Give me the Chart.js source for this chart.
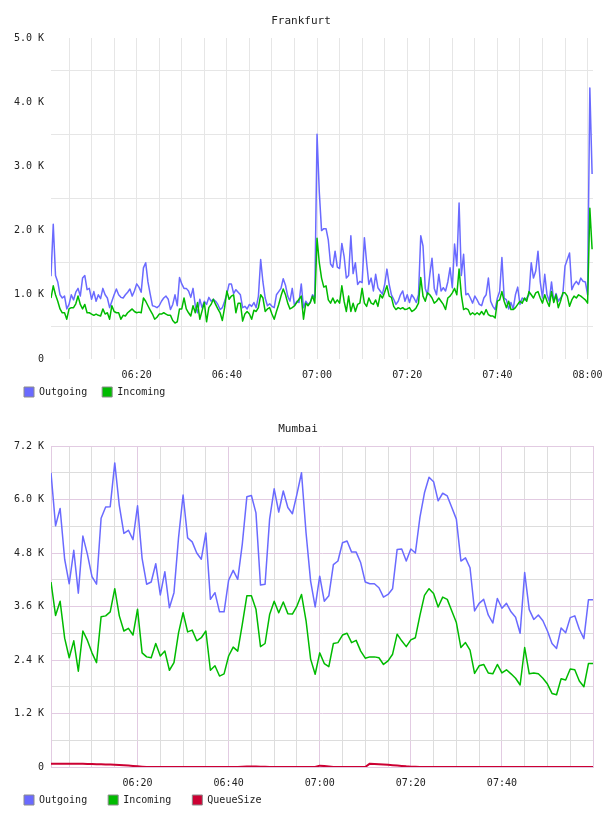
<!DOCTYPE html>
<html>
<head>
<meta charset="utf-8">
<script src="https://cdn.jsdelivr.net/npm/chart.js@4.4.1/dist/chart.umd.min.js"></script>
<style>
  html, body { margin: 0; padding: 0; background: #fff; }
  .box { width: 608px; height: 408px; }
  canvas { display: block; }
</style>
</head>
<body>
<div class="box"><canvas id="frankfurt" width="608" height="408"></canvas></div>
<div class="box"><canvas id="mumbai" width="608" height="408"></canvas></div>
<script>
// Frankfurt: one sample every 30 s from 06:01, values in K
const frankfurtStart = 361;   // minutes since midnight
const frankfurtStep = 0.5;
const frankfurtOutgoing = [
  1.29, 2.1, 1.3, 1.2, 1.0, 0.95, 0.98, 0.78, 0.85, 1.0,
  0.92, 1.04, 1.1, 0.98, 1.26, 1.3, 1.08, 1.1, 0.93, 1.05,
  0.9, 1.0, 0.94, 1.1, 1.0, 0.95, 0.8, 0.9, 1.0, 1.09,
  1.0, 0.96, 0.95, 1.0, 1.04, 1.09, 0.98, 1.06, 1.17, 1.12,
  1.04, 1.42, 1.5, 1.2, 1.01, 0.83, 0.82, 0.8, 0.83, 0.9,
  0.95, 0.98, 0.93, 0.77, 0.85, 1.0, 0.83, 1.27, 1.17, 1.1,
  1.1, 1.06, 0.96, 1.1, 0.83, 0.72, 0.93, 0.8, 0.9, 0.85,
  0.96, 0.9, 0.93, 0.9, 0.85, 0.77, 0.8, 0.9, 1.01, 1.17,
  1.17, 1.02, 1.08, 1.04, 1.0, 0.8, 0.82, 0.78, 0.85, 0.82,
  0.88, 0.8, 0.98, 1.55, 1.2, 0.95, 0.83, 0.86, 0.82, 0.8,
  1.0, 1.05, 1.1, 1.25, 1.15, 0.98, 0.9, 1.1, 0.83, 0.9,
  0.88, 1.17, 0.8, 0.9, 0.85, 0.88, 1.0, 0.95, 3.5, 2.6,
  2.0, 2.03, 2.03, 1.85, 1.48, 1.43, 1.68, 1.43, 1.41, 1.8,
  1.6, 1.26, 1.3, 1.92, 1.33, 1.5, 1.16, 1.21, 1.19, 1.89,
  1.5, 1.16, 1.26, 1.06, 1.32, 1.11, 1.06, 1.01, 1.16, 1.4,
  1.16, 1.0, 0.93, 0.85, 0.9, 1.0, 1.06, 0.9, 1.0, 0.88,
  1.0, 0.95, 0.88, 1.0, 1.92, 1.76, 1.1, 1.0, 1.31, 1.57,
  1.1, 1.0, 1.32, 1.06, 1.11, 1.06, 1.2, 1.42, 1.11, 1.79,
  1.45, 2.43, 1.3, 1.63, 1.0, 1.02, 0.95, 0.87, 0.98, 0.92,
  0.85, 0.83, 0.95, 1.0, 1.26, 0.9, 0.82, 0.77, 0.95, 1.05,
  1.58, 0.95, 0.92, 0.78, 0.88, 0.78, 1.0, 1.12, 0.85, 0.95,
  0.92, 0.95, 1.0, 1.5, 1.26, 1.37, 1.68, 1.2, 0.95, 1.32,
  1.0, 0.9, 1.2, 0.9, 1.02, 0.9, 0.95, 1.0, 1.45, 1.55,
  1.65, 1.08, 1.16, 1.21, 1.16, 1.26, 1.21, 1.2, 1.0, 4.22, 2.88
];
const frankfurtIncoming = [
  0.95, 1.14, 1.0, 0.9, 0.78, 0.72, 0.72, 0.62, 0.78, 0.8,
  0.8, 0.86, 0.98, 0.85, 0.78, 0.85, 0.72, 0.72, 0.7, 0.68,
  0.7, 0.68, 0.67, 0.78, 0.7, 0.72, 0.62, 0.83, 0.74, 0.72,
  0.72, 0.62, 0.68, 0.67, 0.72, 0.75, 0.78, 0.74, 0.72, 0.73,
  0.72, 0.95, 0.9, 0.83, 0.76, 0.7, 0.62, 0.65, 0.7, 0.7,
  0.72, 0.7, 0.68, 0.68, 0.6, 0.56, 0.58, 0.78, 0.78, 0.95,
  0.78, 0.72, 0.67, 0.83, 0.72, 0.88, 0.62, 0.75, 0.88, 0.58,
  0.8, 0.85, 0.93, 0.85, 0.78, 0.72, 0.6, 0.8, 1.06, 0.93,
  0.98, 1.0, 0.72, 0.87, 0.87, 0.59, 0.7, 0.74, 0.7, 0.62,
  0.76, 0.74, 0.8, 1.0, 0.95, 0.74, 0.78, 0.8, 0.7, 0.62,
  0.74, 0.85, 0.98, 1.09, 1.0, 0.87, 0.78, 0.8, 0.83, 0.88,
  0.93, 0.98, 0.62, 0.87, 0.83, 0.88, 0.98, 0.87, 1.88, 1.5,
  1.26, 1.12, 1.14, 0.92, 0.87, 0.95, 0.87, 0.92, 0.87, 1.14,
  0.9, 0.74, 0.98, 0.74, 0.87, 0.74, 0.85, 0.87, 1.1, 0.87,
  0.82, 0.95, 0.87, 0.85, 0.92, 0.82, 1.0, 0.95, 1.04, 1.14,
  0.98, 0.96, 0.82, 0.77, 0.8, 0.78, 0.8, 0.77, 0.78, 0.8,
  0.74, 0.76, 0.8, 0.87, 1.27, 0.98, 0.9, 1.03, 1.0, 0.95,
  0.87, 0.9, 0.95, 0.9, 0.85, 0.77, 0.95, 0.98, 1.03, 1.1,
  1.0, 1.4, 1.0, 0.77, 0.79, 0.77, 0.69, 0.72, 0.69, 0.72,
  0.69, 0.74, 0.69, 0.77, 0.69, 0.67, 0.67, 0.64, 0.9, 0.92,
  1.05, 0.9, 0.8, 0.9, 0.77, 0.77, 0.8, 0.85, 0.9, 0.87,
  0.95, 0.9, 1.05, 1.0, 0.95, 1.03, 1.05, 0.95, 0.87, 1.0,
  0.9, 0.82, 1.05, 0.88, 1.0, 0.8, 0.9, 1.03, 1.03, 0.98,
  0.82, 0.92, 0.98, 0.95, 1.0, 0.98, 0.95, 0.92, 0.87, 2.35, 1.71
];
const frankfurtTicks = { max: 5, step: 0.5, labelEvery: 1 };

// Mumbai: one sample per minute from 06:01, values in K
const mumbaiStart = 361;
const mumbaiStep = 1;
const mumbaiOutgoing = [
  6.6, 5.41, 5.8, 4.66, 4.11, 4.86, 3.9, 5.18, 4.77, 4.27,
  4.1, 5.58, 5.83, 5.84, 6.82, 5.86, 5.24, 5.31, 5.1, 5.86,
  4.68, 4.1, 4.15, 4.56, 3.86, 4.38, 3.57, 3.91, 5.14, 6.1,
  5.14, 5.05, 4.8, 4.66, 5.25, 3.76, 3.91, 3.48, 3.48, 4.19,
  4.41, 4.21, 5.0, 6.06, 6.09, 5.7, 4.08, 4.1, 5.56, 6.24,
  5.72, 6.19, 5.82, 5.68, 6.12, 6.6, 5.25, 4.17, 3.59, 4.28,
  3.72, 3.84, 4.54, 4.62, 5.03, 5.07, 4.82, 4.82, 4.58, 4.15,
  4.11, 4.11, 4.02, 3.81, 3.87, 4.0, 4.88, 4.89, 4.62, 4.89,
  4.8, 5.6, 6.15, 6.5, 6.4, 5.97, 6.14, 6.08, 5.82, 5.56,
  4.62, 4.69, 4.47, 3.5, 3.67, 3.76, 3.41, 3.23, 3.78, 3.56,
  3.67, 3.48, 3.36, 3.0, 4.36, 3.53, 3.31, 3.41, 3.28, 3.05,
  2.77, 2.66, 3.12, 3.01, 3.35, 3.39, 3.09, 2.88, 3.75, 3.75
];
const mumbaiIncoming = [
  4.15, 3.4, 3.72, 2.89, 2.45, 2.83, 2.15, 3.05, 2.84, 2.56,
  2.34, 3.37, 3.39, 3.48, 4.0, 3.39, 3.05, 3.11, 2.96, 3.54,
  2.56, 2.47, 2.45, 2.77, 2.49, 2.6, 2.17, 2.34, 3.01, 3.46,
  3.03, 3.07, 2.83, 2.9, 3.05, 2.17, 2.27, 2.04, 2.09, 2.49,
  2.69, 2.6, 3.2, 3.84, 3.84, 3.54, 2.7, 2.77, 3.42, 3.72,
  3.46, 3.7, 3.44, 3.43, 3.61, 3.87, 3.28, 2.42, 2.08, 2.56,
  2.32, 2.25, 2.77, 2.79, 2.96, 3.0, 2.79, 2.84, 2.6, 2.44,
  2.47, 2.47, 2.45, 2.3, 2.38, 2.53, 2.98, 2.83, 2.7, 2.85,
  2.9, 3.4, 3.85, 4.0, 3.89, 3.59, 3.81, 3.76, 3.5, 3.24,
  2.68, 2.79, 2.62, 2.1, 2.27, 2.3, 2.11, 2.09, 2.3, 2.11,
  2.18, 2.09, 1.99, 1.84, 2.68, 2.09, 2.11, 2.09, 1.99, 1.86,
  1.65, 1.62, 1.98, 1.95, 2.2, 2.18, 1.93, 1.8, 2.32, 2.32
];
const mumbaiQueueSize = [
  0.074, 0.074, 0.074, 0.074, 0.074, 0.074, 0.074, 0.072, 0.07, 0.066,
  0.063, 0.06, 0.058, 0.055, 0.05, 0.046, 0.038, 0.032, 0.024, 0.015,
  0.008, 0.002, 0, 0, 0, 0, 0, 0, 0, 0,
  0, 0, 0, 0, 0, 0, 0, 0, 0, 0,
  0, 0, 0.005, 0.01, 0.01, 0.01, 0.008, 0.005, 0, 0,
  0, 0, 0, 0, 0, 0, 0, 0, 0, 0.03,
  0.02, 0.01, 0, 0, 0, 0, 0, 0, 0, 0,
  0.075, 0.07, 0.062, 0.055, 0.048, 0.04, 0.032, 0.025, 0.015, 0.008,
  0.003, 0, 0, 0, 0, 0, 0, 0, 0, 0,
  0, 0, 0, 0, 0, 0, 0, 0, 0, 0,
  0, 0, 0, 0, 0, 0, 0, 0, 0, 0,
  0, 0, 0, 0, 0, 0, 0, 0, 0, 0
];
const mumbaiTicks = { max: 7.2, step: 0.6, labelEvery: 1.2 };

const COLORS = { outgoing: '#6a6aff', incoming: '#00bb00', queue: '#cc0033' };
const FONT = 'DejaVu Sans Mono';
const TEXT = '#222';

function toPoints(start, step, values) {
  return values.map((v, i) => ({ x: start + i * step, y: v }));
}

function hhmm(v) {
  const h = Math.floor(v / 60), m = Math.round(v % 60);
  return String(h).padStart(2, '0') + ':' + String(m).padStart(2, '0');
}

function isMultiple(v, unit) {
  return Math.round(v * 100) % Math.round(unit * 100) === 0;
}

// the x axis box is kept short so the legend sits close; let its labels
// draw below the box instead of being clipped to it
const unclipTicks = {
  id: 'unclipTicks',
  afterLayout(chart) { chart.scales.x.bottom = chart.height; }
};

function makeChart(id, o) {
  return new Chart(document.getElementById(id), {
    type: 'line',
    data: { datasets: o.datasets },
    plugins: [unclipTicks],
    options: {
      responsive: false,
      animation: false,
      events: [],
      layout: { padding: { left: o.padLeft, right: 15, top: 0, bottom: 1 } },
      elements: { point: { radius: 0 }, line: { tension: 0, borderJoinStyle: 'round' } },
      scales: {
        x: {
          type: 'linear',
          min: o.xMin,
          max: o.xMax,
          border: { display: o.framed, color: o.majorColor },
          grid: {
            drawTicks: false,
            color: c => {
              const v = c.tick.value;
              if (!isMultiple(v, 5)) return 'rgba(0,0,0,0)';
              return (o.framed && isMultiple(v, 20)) ? o.majorColor : o.minorColor;
            }
          },
          ticks: {
            stepSize: 5,
            includeBounds: false,
            autoSkip: false,
            maxRotation: 0,
            padding: 10,
            color: TEXT,
            font: { family: FONT, size: 10 },
            callback: v => (isMultiple(v, 20) && v < o.lastLabel + 0.01) ? hhmm(v) : ''
          },
          afterFit: s => { s.height = o.xHeight; s.paddingLeft = 0; s.paddingRight = 0; }
        },
        y: {
          min: 0,
          max: o.ticks.max,
          border: { display: o.framed, color: o.majorColor },
          grid: {
            drawTicks: false,
            color: c => {
              const major = isMultiple(c.tick.value, o.ticks.labelEvery);
              if (o.framed) return major ? o.majorColor : o.minorColor;
              return major ? 'rgba(0,0,0,0)' : o.minorColor;
            }
          },
          ticks: {
            stepSize: o.ticks.step,
            autoSkip: false,
            padding: 7,
            color: TEXT,
            font: { family: FONT, size: 10 },
            callback: v => {
              if (!isMultiple(v, o.ticks.labelEvery)) return '';
              return v === 0 ? '0' : v.toFixed(1) + ' K';
            }
          },
          afterFit: s => { s.width = 51 - o.padLeft; }
        }
      },
      plugins: {
        title: {
          display: true,
          text: o.title,
          color: TEXT,
          font: { family: FONT, size: 11, weight: 'normal' },
          padding: { top: 15, bottom: 9.8 }
        },
        legend: {
          position: 'bottom',
          align: 'start',
          labels: {
            boxWidth: 10,
            boxHeight: 10,
            padding: o.legendPad,
            color: TEXT,
            font: { family: FONT, size: 10 },
            sort: (a, b) => a.datasetIndex - b.datasetIndex,
            generateLabels: chart => Chart.defaults.plugins.legend.labels.generateLabels(chart).map(l => {
              l.fillStyle = chart.data.datasets[l.datasetIndex].borderColor;
              l.strokeStyle = '#8c8c8c';
              l.lineWidth = 1;
              return l;
            })
          }
        },
        tooltip: { enabled: false }
      }
    }
  });
}

makeChart('frankfurt', {
  title: 'Frankfurt',
  padLeft: 9,
  legendPad: 15,
  xHeight: 13,
  xMin: 361,
  xMax: 481.2,
  lastLabel: 480,
  framed: false,
  minorColor: '#e6e6e6',
  majorColor: '#e6e6e6',
  ticks: frankfurtTicks,
  datasets: [
    { label: 'Outgoing', data: toPoints(frankfurtStart, frankfurtStep, frankfurtOutgoing),
      borderColor: COLORS.outgoing, backgroundColor: COLORS.outgoing, borderWidth: 1.5, order: 1 },
    { label: 'Incoming', data: toPoints(frankfurtStart, frankfurtStep, frankfurtIncoming),
      borderColor: COLORS.incoming, backgroundColor: COLORS.incoming, borderWidth: 1.5, order: 0 }
  ]
});

makeChart('mumbai', {
  title: 'Mumbai',
  padLeft: 3,
  legendPad: 21,
  xHeight: 7,
  xMin: 361,
  xMax: 480,
  lastLabel: 460,
  framed: true,
  minorColor: '#dddddd',
  majorColor: '#e2cbe2',
  ticks: mumbaiTicks,
  datasets: [
    { label: 'Outgoing', data: toPoints(mumbaiStart, mumbaiStep, mumbaiOutgoing),
      borderColor: COLORS.outgoing, backgroundColor: COLORS.outgoing, borderWidth: 1.5, order: 2 },
    { label: 'Incoming', data: toPoints(mumbaiStart, mumbaiStep, mumbaiIncoming),
      borderColor: COLORS.incoming, backgroundColor: COLORS.incoming, borderWidth: 1.5, order: 1 },
    { label: 'QueueSize', data: toPoints(mumbaiStart, mumbaiStep, mumbaiQueueSize),
      borderColor: COLORS.queue, backgroundColor: COLORS.queue, borderWidth: 2, order: 0 }
  ]
});
</script>
</body>
</html>
